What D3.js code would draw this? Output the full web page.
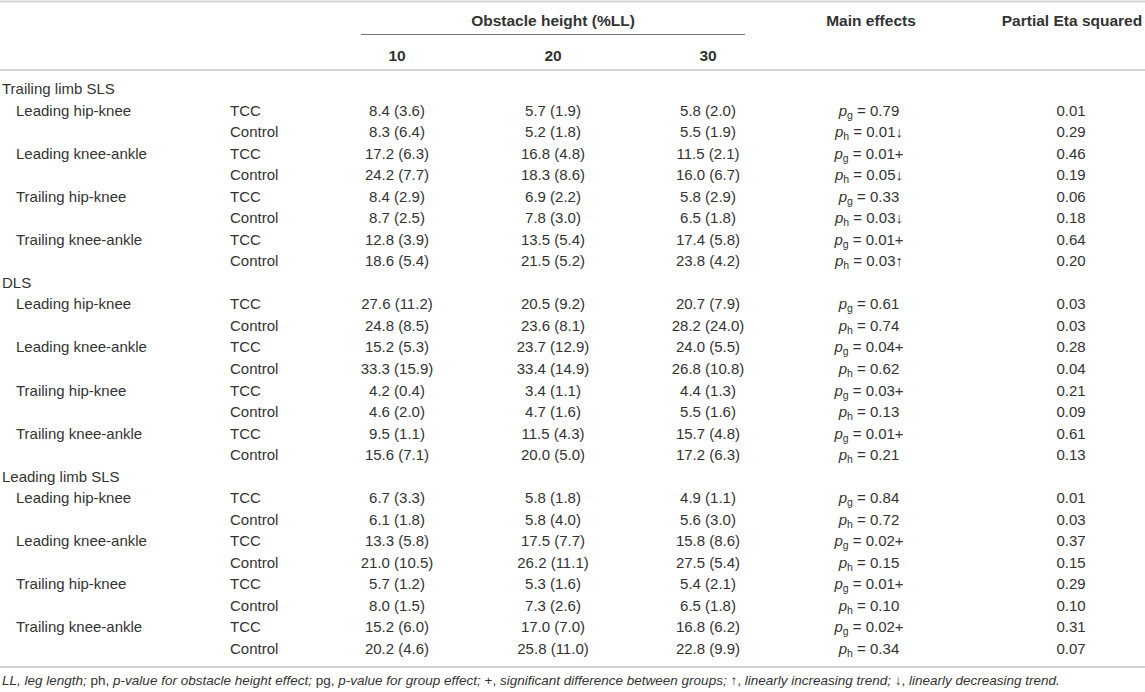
<!DOCTYPE html>
<html>
<head>
<meta charset="utf-8">
<script src="https://cdn.jsdelivr.net/npm/d3@7"></script>
<style>
  body { margin: 0; background: #fff; }
  svg text { font-family: "Liberation Sans", Arial, sans-serif; fill: #333; }
</style>
</head>
<body>
<div id="chart"></div>
<script>
// table content
var sections = ["Trailing limb SLS", "DLS", "Leading limb SLS"];
var measures = ["Leading hip-knee", "Leading knee-ankle", "Trailing hip-knee", "Trailing knee-ankle"];
var groups = ["TCC", "Control"];
var heights = ["10", "20", "30"];

// one entry per (section, measure, group) row, in reading order
var mean10 = [8.4, 8.3, 17.2, 24.2, 8.4, 8.7, 12.8, 18.6,
  27.6, 24.8, 15.2, 33.3, 4.2, 4.6, 9.5, 15.6,
  6.7, 6.1, 13.3, 21.0, 5.7, 8.0, 15.2, 20.2];
var sd10 = [3.6, 6.4, 6.3, 7.7, 2.9, 2.5, 3.9, 5.4,
  11.2, 8.5, 5.3, 15.9, 0.4, 2.0, 1.1, 7.1,
  3.3, 1.8, 5.8, 10.5, 1.2, 1.5, 6.0, 4.6];
var mean20 = [5.7, 5.2, 16.8, 18.3, 6.9, 7.8, 13.5, 21.5,
  20.5, 23.6, 23.7, 33.4, 3.4, 4.7, 11.5, 20.0,
  5.8, 5.8, 17.5, 26.2, 5.3, 7.3, 17.0, 25.8];
var sd20 = [1.9, 1.8, 4.8, 8.6, 2.2, 3.0, 5.4, 5.2,
  9.2, 8.1, 12.9, 14.9, 1.1, 1.6, 4.3, 5.0,
  1.8, 4.0, 7.7, 11.1, 1.6, 2.6, 7.0, 11.0];
var mean30 = [5.8, 5.5, 11.5, 16.0, 5.8, 6.5, 17.4, 23.8,
  20.7, 28.2, 24.0, 26.8, 4.4, 5.5, 15.7, 17.2,
  4.9, 5.6, 15.8, 27.5, 5.4, 6.5, 16.8, 22.8];
var sd30 = [2.0, 1.9, 2.1, 6.7, 2.9, 1.8, 5.8, 4.2,
  7.9, 24.0, 5.5, 10.8, 1.3, 1.6, 4.8, 6.3,
  1.1, 3.0, 8.6, 5.4, 2.1, 1.8, 6.2, 9.9];
var pValues = ["0.79", "0.01", "0.01", "0.05", "0.33", "0.03", "0.01", "0.03",
  "0.61", "0.74", "0.04", "0.62", "0.03", "0.13", "0.01", "0.21",
  "0.84", "0.72", "0.02", "0.15", "0.01", "0.10", "0.02", "0.34"];
var pMarks = ["", "↓", "+", "↓", "", "↓", "+", "↑",
  "", "", "+", "", "+", "", "+", "",
  "", "", "+", "", "+", "", "+", ""];
var etaSquared = ["0.01", "0.29", "0.46", "0.19", "0.06", "0.18", "0.64", "0.20",
  "0.03", "0.03", "0.28", "0.04", "0.21", "0.09", "0.61", "0.13",
  "0.01", "0.03", "0.37", "0.15", "0.29", "0.10", "0.31", "0.07"];
var effectKeys = ["g", "h"]; // TCC rows test group, Control rows test height

var footnote = [
  ["LL, leg length;", true], [" ph, ", false], ["p-value for obstacle height effect;", true],
  [" pg, ", false], ["p-value for group effect;", true], [" +, ", false],
  ["significant difference between groups;", true], [" ↑, ", false],
  ["linearly increasing trend;", true], [" ↓, ", false], ["linearly decreasing trend.", true]
];

var width = 1145, height = 692;
var fmt = d3.format(".1f");

var svg = d3.select("#chart").append("svg")
  .attr("width", width)
  .attr("height", height);

// build the flat list of table lines
var lines = [];
var k = 0;
sections.forEach(function (s) {
  lines.push({ type: "section", label: s });
  measures.forEach(function (m) {
    groups.forEach(function (g, gi) {
      lines.push({ type: "data", measure: gi === 0 ? m : "", group: g, i: k, gi: gi });
      k++;
    });
  });
});

var y = d3.scalePoint()
  .domain(d3.range(lines.length))
  .range([89, 649]);

var x = d3.scaleOrdinal()
  .domain(["10", "20", "30", "effect", "eta"])
  .range([397, 553, 708, 869, 1071]);

var means = { "10": mean10, "20": mean20, "30": mean30 };
var sds = { "10": sd10, "20": sd20, "30": sd30 };

// rules
function rule(y0, x0, x1, color, w) {
  svg.append("line")
    .attr("x1", x0).attr("x2", x1)
    .attr("y1", y0).attr("y2", y0)
    .attr("stroke", color)
    .attr("stroke-width", w);
}
rule(1.5, 0, width, "#d4d4d4", 2);
rule(34.5, 361, 745, "#777", 1);
rule(70, 0, width, "#d4d4d4", 2);
rule(667, 0, width, "#d4d4d4", 2);

// header
var head = svg.append("g").attr("font-weight", "bold").attr("font-size", 15.5);
head.append("text").attr("x", 553).attr("y", 26).attr("text-anchor", "middle").text("Obstacle height (%LL)");
head.append("text").attr("x", 871).attr("y", 26).attr("text-anchor", "middle").text("Main effects");
head.append("text").attr("x", 1072).attr("y", 26).attr("text-anchor", "middle").text("Partial Eta squared");
head.selectAll(".h").data(heights).enter().append("text")
  .attr("x", function (d) { return x(d); })
  .attr("y", 61)
  .attr("text-anchor", "middle")
  .text(function (d) { return d; });

// body rows
var body = svg.append("g").attr("font-size", 15);
var row = body.selectAll("g.row").data(lines).enter().append("g")
  .attr("class", "row")
  .attr("transform", function (d, i) { return "translate(0," + (y(i) + 5) + ")"; });

row.filter(function (d) { return d.type === "section"; })
  .append("text").attr("x", 2).text(function (d) { return d.label; });

var dataRow = row.filter(function (d) { return d.type === "data"; });
dataRow.append("text").attr("x", 16).text(function (d) { return d.measure; });
dataRow.append("text").attr("x", 230).text(function (d) { return d.group; });

heights.forEach(function (h) {
  dataRow.append("text")
    .attr("x", x(h))
    .attr("text-anchor", "middle")
    .text(function (d) { return fmt(means[h][d.i]) + " (" + fmt(sds[h][d.i]) + ")"; });
});

var eff = dataRow.append("text")
  .attr("x", x("effect"))
  .attr("text-anchor", "middle");
eff.append("tspan").attr("font-style", "italic").text("p");
eff.append("tspan").attr("font-size", 10.5).attr("dy", 3).text(function (d) { return effectKeys[d.gi]; });
eff.append("tspan").attr("dy", -3).text(function (d) { return " = " + pValues[d.i] + pMarks[d.i]; });

dataRow.append("text")
  .attr("x", x("eta"))
  .attr("text-anchor", "middle")
  .text(function (d) { return etaSquared[d.i]; });

// footnote
var foot = svg.append("text")
  .attr("x", 2)
  .attr("y", 685)
  .attr("font-size", 13.5);
foot.selectAll("tspan").data(footnote).enter().append("tspan")
  .attr("font-style", function (d) { return d[1] ? "italic" : "normal"; })
  .style("white-space", "pre")
  .text(function (d) { return d[0]; });
</script>
</body>
</html>
